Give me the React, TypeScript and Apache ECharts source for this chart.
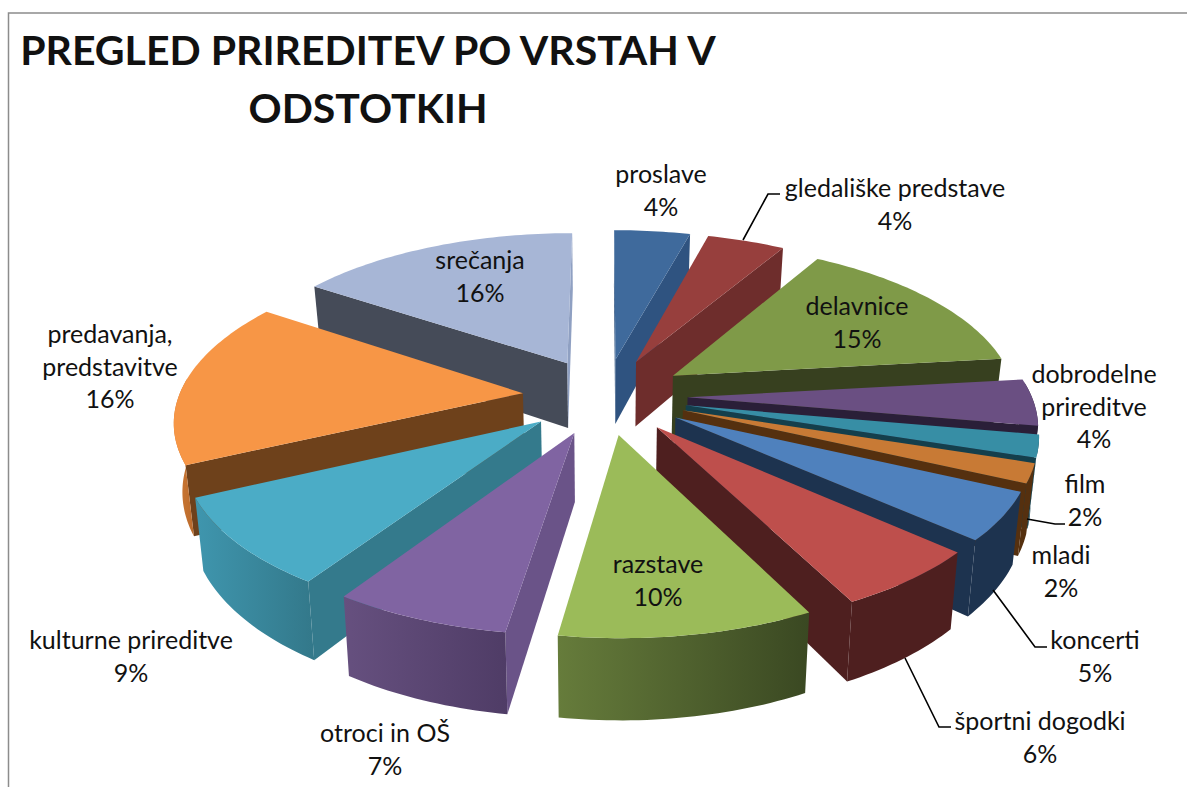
import React, { useEffect, useRef } from "react";
import * as echarts from "echarts";

const titleLines = ["PREGLED PRIREDITEV PO VRSTAH V", "ODSTOTKIH"];
const categories = [
  "proslave", "gledališke predstave", "delavnice", "dobrodelne\nprireditve", "film", "mladi",
  "koncerti", "športni dogodki", "razstave", "otroci in OŠ", "kulturne prireditve",
  "predavanja,\npredstavitve", "srečanja",
];
const values = [4, 4, 15, 4, 2, 2, 5, 6, 10, 7, 9, 16, 16];
// slice sizes as read from the drawn wedges (the labels above are rounded)
const shares = [4.2, 4.3, 14.7, 4.6, 2.2, 1.9, 4.7, 5.9, 9.9, 6.9, 8.7, 16.4, 15.6];

const topColors = ["#3f6a9c", "#973f3d", "#7f9a48", "#6a4f82", "#378ea5", "#c87a35", "#4f81bd", "#be4f4c", "#9bbb59", "#8064a2", "#4bacc6", "#f79646", "#a7b6d6"];
const radialStart = ["#2f5380", "#6e2d2c", "#37401f", "#2a1f38", "#143f4c", "#55300f", "#1d334f", "#4e1f1f", "#4e6130", "#6a5388", "#347a8c", "#6e411b", "#454b58"];
const radialEnd = ["#2f5380", "#6e2d2c", "#37401f", "#2a1f38", "#143f4c", "#55300f", "#1d334f", "#4e1f1f", "#4e6130", "#6a5388", "#347a8c", "#6e411b", "#8fa0c2"];
const rimLeft = ["#2f5380", "#6e2d2c", "#37401f", "#2a1f38", "#143f4c", "#55300f", "#1d334f", "#4e1f1f", "#667c3b", "#66507f", "#3f96ae", "#d07a34", "#8fa0c2"];
const rimRight = ["#2f5380", "#6e2d2c", "#37401f", "#2a1f38", "#143f4c", "#55300f", "#1d334f", "#4e1f1f", "#3a4822", "#4f3c66", "#33788a", "#b86a2c", "#8fa0c2"];

const labelX = [661, 895, 857, 1094, 1085, 1061, 1095, 1040, 658, 385, 131, 110, 480];
const labelY = [173, 187, 305, 373, 483, 554, 639, 720, 563, 732, 639, 333, 259];
const leaders = [
  [[743, 240], [768, 194], [780, 194]],
  [[1027, 519], [1055, 524], [1065, 524]],
  [[993, 590], [1035, 647], [1047, 647]],
  [[905, 658], [939, 727], [951, 727]],
];

const CX = 605, CY = 396, D = 6.6, F = 2270, G = 1050, K = 441, EXPLODE = 0.24;
const FONT = "Lato, Carlito, 'Open Sans', sans-serif";

function project(X: number, Y: number, z: number): number[] {
  const w = D - Y;
  return [CX + (F * X / w) * (z ? 0.98 : 1), CY + (G * Y) / w + (z * K) / w];
}

const total = shares.reduce((a, b) => a + b, 0);
const starts: number[] = [];
shares.reduce((acc, v, i) => {
  starts[i] = acc;
  return acc + v;
}, 0);
const ang = (pct: number) => (pct / total) * Math.PI * 2;
const midY = (i: number) => -Math.cos(ang(starts[i] + shares[i] / 2));
const drawOrder = shares.map((_, i) => i).sort((a, b) => midY(a) - midY(b));

function renderSlice(params: any, api: any) {
  const i = api.value(1);
  const a0 = ang(starts[i]);
  const a1 = ang(starts[i] + api.value(0));
  const m = (a0 + a1) / 2;
  const ox = EXPLODE * Math.sin(m), oy = -EXPLODE * Math.cos(m);
  const pt = (a: number, z: number) => project(ox + Math.sin(a), oy - Math.cos(a), z);
  const apex = (z: number) => project(ox, oy, z);
  const n = Math.max(6, Math.ceil((a1 - a0) / 0.02));
  const arc = (z: number, from = a0, to = a1) => {
    const p: number[][] = [];
    for (let k = 0; k <= n; k++) p.push(pt(from + ((to - from) * k) / n, z));
    return p;
  };
  const children: any[] = [];
  const area = (pts: number[][]) => {
    let s = 0;
    pts.forEach((q, j) => {
      const r = pts[(j + 1) % pts.length];
      s += q[0] * r[1] - r[0] * q[1];
    });
    return s;
  };
  const faceA = [apex(0), pt(a0, 0), pt(a0, 1), apex(1)];
  const faceB = [apex(0), pt(a1, 0), pt(a1, 1), apex(1)];
  [faceA, faceB].forEach((f, idx) => {
    const s = area(f);
    if ((idx === 0 && s < 0) || (idx === 1 && s > 0)) {
      children.push({ type: "polygon", shape: { points: f }, style: { fill: idx === 0 ? radialStart[i] : radialEnd[i] } });
    }
  });
  const fa = Math.max(a0, Math.PI * 0.47), ta = Math.min(a1, Math.PI * 1.53);
  if (ta > fa) {
    const upper = arc(0, fa, ta);
    const lower = arc(1, fa, ta).reverse();
    children.push({
      type: "polygon",
      shape: { points: upper.concat(lower) },
      style: {
        fill: new echarts.graphic.LinearGradient(0, 0, 1, 0, [
          { offset: 0, color: rimLeft[i] },
          { offset: 1, color: rimRight[i] },
        ]),
      },
    });
  }
  children.push({
    type: "polygon",
    shape: { points: [apex(0)].concat(arc(0)) },
    style: { fill: topColors[i] },
  });
  return { type: "group", children };
}

const textEl = (text: string, x: number, y: number, font: string) => ({
  type: "text",
  x,
  y,
  z: 10,
  style: { text, font, fill: "#111", align: "center", verticalAlign: "middle" },
});

export default function App() {
  const ref = useRef<HTMLDivElement>(null);
  useEffect(() => {
    const chart = echarts.init(ref.current!, undefined, { renderer: "svg" });
    const labels: any[] = [];
    categories.forEach((c, i) => {
      const lines = c.split("\n").concat([`${values[i]}%`]);
      lines.forEach((l, j) => labels.push(textEl(l, labelX[i], labelY[i] + j * 32.5, `25px ${FONT}`)));
    });
    chart.setOption({
      animation: false,
      backgroundColor: "#fff",
      graphic: [
        {
          type: "polyline",
          z: 1,
          shape: { points: [[8.5, 787], [8.5, 13], [1187, 13]] },
          style: { stroke: "#8c8c8c", lineWidth: 1.5, fill: "none" },
        },
        textEl(titleLines[0], 368, 49, `bold 41px ${FONT}`),
        textEl(titleLines[1], 368, 107, `bold 41px ${FONT}`),
        ...leaders.map((p) => ({
          type: "polyline",
          z: 10,
          shape: { points: p },
          style: { stroke: "#000", lineWidth: 1.6, fill: "none" },
        })),
        ...labels,
      ],
      series: [
        {
          type: "custom",
          coordinateSystem: "none",
          silent: true,
          renderItem: renderSlice,
          data: drawOrder.map((i) => [shares[i], i]),
        },
      ],
    });
    return () => chart.dispose();
  }, []);
  return <div ref={ref} style={{ position: "fixed", left: 0, top: 0, width: 1187, height: 787 }} />;
}
